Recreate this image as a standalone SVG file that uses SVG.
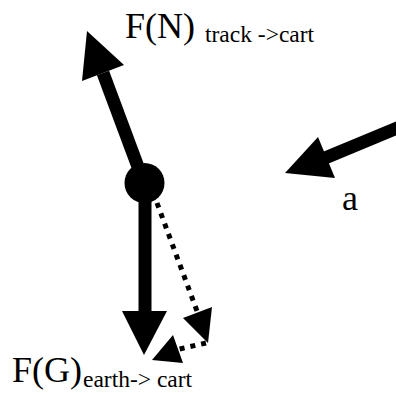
<svg xmlns="http://www.w3.org/2000/svg" width="396" height="393" viewBox="0 0 396 393">
<style>
.shaft{stroke:#000;stroke-width:13;fill:none}
.dot{stroke:#000;stroke-width:5;fill:none;stroke-dasharray:5 6}
.head{fill:#000}
.t{font-family:"Liberation Serif","Times New Roman",serif;fill:#000}
</style>
<rect width="396" height="393" fill="#fff"/>
<g id="connectors">
<line class="shaft" x1="144" y1="183" x2="103" y2="73"/>
<polygon class="head" points="87,31 82,81 124,65"/>
<line class="shaft" x1="145" y1="190" x2="145" y2="312"/>
<polygon class="head" points="122,311 167,311 144,355"/>
<line class="shaft" x1="402" y1="126" x2="325" y2="158"/>
<polygon class="head" points="285,173 318,137 335,178"/>
<line class="dot" x1="157" y1="203" x2="197" y2="311"/>
<polygon class="head" points="183,318 212,307 208,343"/>
<line class="dot" x1="206" y1="343" x2="175" y2="350"/>
<polygon class="head" points="152,360 173,335 183,363"/>
</g>
<g id="cart"><circle cx="144.5" cy="183" r="20" fill="#000"/></g>
<g id="label-fn"><text class="t" x="125" y="38" font-size="36">F(N)</text><text class="t" x="205" y="42" font-size="23.5">track -&gt;cart</text></g>
<g id="label-a"><text class="t" x="342" y="210" font-size="36">a</text></g>
<g id="label-fg"><text class="t" x="12" y="382" font-size="36">F(G)</text><text class="t" x="83" y="387" font-size="23.5">earth-&gt; cart</text></g>
</svg>
